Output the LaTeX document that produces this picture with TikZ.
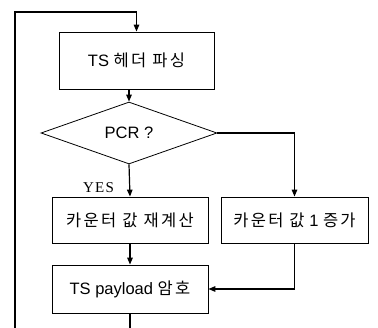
\documentclass[tikz,border=0pt]{standalone}
\usepackage{fontspec}
\setmainfont{Liberation Sans}
\newfontfamily\krfont[LetterSpace=14]{Noto Sans CJK KR}
\newfontfamily\yesfont[LetterSpace=8]{Liberation Serif}
\newcommand{\kr}[1]{{\krfont #1}}
\usetikzlibrary{arrows.meta,shapes.geometric}

\begin{document}
\begin{tikzpicture}[x=1pt, y=-1pt,
  box/.style={draw, line width=0.8pt, inner sep=0pt, font=\fontsize{16.5}{19}\selectfont},
  decision/.style={draw, diamond, line width=0.8pt, inner sep=0pt, font=\fontsize{16.5}{19}\selectfont},
  arr/.style={line width=1.2pt, -{Triangle[length=7pt,width=5.5pt]}},
  wire/.style={line width=1.2pt}]
\useasboundingbox (0,0) rectangle (378,328);
% flowchart boxes
\node[box, minimum width=155pt, minimum height=57pt] (hdr) at (136.5,60.5) {TS \kr{헤더 파싱}};
\node[decision, minimum width=176pt, minimum height=62pt] (pcr) at (129,133) {PCR ?};
\node[box, minimum width=156pt, minimum height=46pt] (recalc) at (130,220) {\kr{카운터 값 재계산}};
\node[box, minimum width=147pt, minimum height=46pt] (incr) at (294.5,220) {\kr{카운터 값} 1 \kr{증가}};
\node[box, minimum width=156pt, minimum height=48pt] (enc) at (130,289) {TS payload \kr{암호}};
\node[font=\yesfont\fontsize{15}{17}\selectfont] (yes) at (98.5,188) {YES};
% loop coordinates
\coordinate (loopbot) at (15,330);
\coordinate (looptop) at (136.5,12);
\coordinate (outbot) at (130,330);
% connectors
\draw[arr] (loopbot) |- (looptop) -- (hdr.north);
\draw[arr] (pcr.north |- hdr.south) -- (pcr.north);
\draw[arr] (pcr.south) -- (recalc.north);
\draw[arr] (pcr.east) -| (incr.north);
\draw[arr] (recalc.south) -- (enc.north);
\draw[arr] (incr.south) |- (enc.east);
\draw[wire] (enc.south) -- (outbot);
\end{tikzpicture}
\end{document}
